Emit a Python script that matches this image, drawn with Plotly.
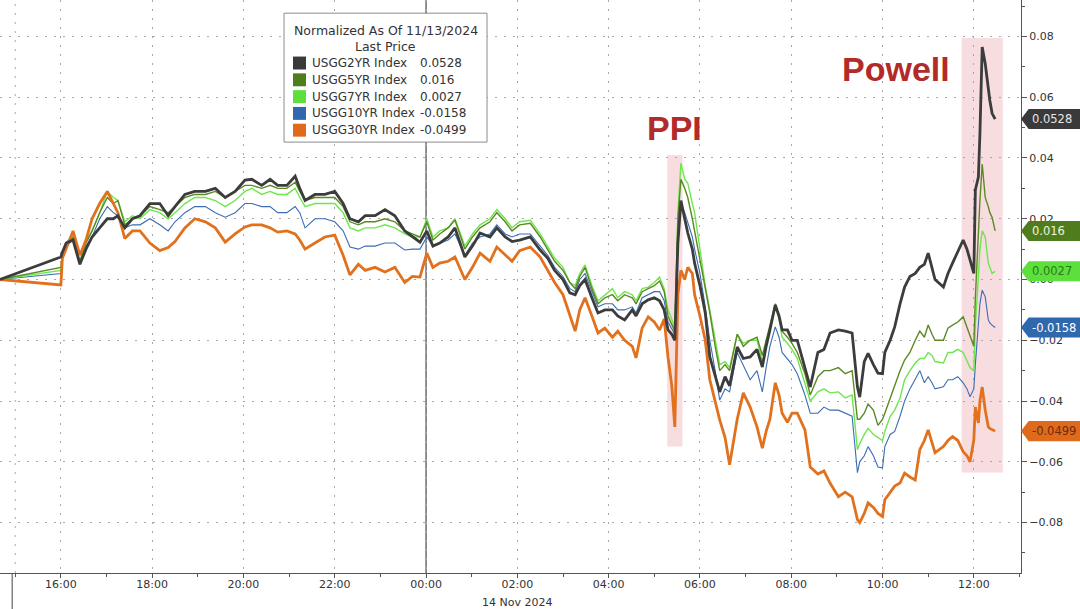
import pandas as pd
import plotly.graph_objects as go

# clock times (Nov 13 afternoon -> Nov 14), values normalized to 11/13/2024
times = [
    "14:40", "16:00", "16:02", "16:07", "16:16", "16:25", "16:33", "16:41", "16:51", "17:01",
    "17:09", "17:15", "17:24", "17:34", "17:44", "17:57", "18:10", "18:21", "18:30", "18:43",
    "18:56", "19:10", "19:23", "19:36", "19:49", "20:02", "20:11", "20:24", "20:35", "20:45",
    "20:57", "21:08", "21:14", "21:21", "21:34", "21:47", "22:00", "22:11", "22:20", "22:31",
    "22:40", "22:53", "23:06", "23:19", "23:32", "23:42", "23:52", "00:01", "00:09", "00:18",
    "00:29", "00:38", "00:51", "01:01", "01:11", "01:24", "01:33", "01:44", "01:53", "02:03",
    "02:17", "02:30", "02:40", "02:49", "03:00", "03:09", "03:16", "03:22", "03:29", "03:38",
    "03:46", "03:55", "04:05", "04:12", "04:21", "04:31", "04:36", "04:44", "04:52", "05:00",
    "05:07", "05:13", "05:18", "05:23", "05:27", "05:31", "05:35", "05:40", "05:44", "05:50",
    "05:53", "06:00", "06:07", "06:13", "06:20", "06:26", "06:33", "06:39", "06:49", "06:57",
    "07:06", "07:15", "07:22", "07:27", "07:32", "07:39", "07:44", "07:48", "07:55", "08:01",
    "08:08", "08:18", "08:25", "08:35", "08:43", "08:51", "09:02", "09:11", "09:20", "09:27",
    "09:30", "09:36", "09:41", "09:48", "09:54", "10:00", "10:03", "10:10", "10:16", "10:23",
    "10:29", "10:36", "10:43", "10:49", "10:55", "11:00", "11:05", "11:09", "11:20", "11:26",
    "11:32", "11:39", "11:46", "11:51", "11:55", "12:00", "12:02", "12:06", "12:08", "12:11",
    "12:15", "12:19", "12:21", "12:24", "12:28",
]

usgg2 = [
    0, 0.0074, 0.009, 0.012, 0.013, 0.005, 0.010, 0.014, 0.017, 0.020,
    0.020, 0.021, 0.017, 0.020, 0.021, 0.025, 0.025, 0.021, 0.024, 0.028,
    0.029, 0.029, 0.030, 0.027, 0.029, 0.0327, 0.033, 0.031, 0.033, 0.031,
    0.031, 0.034, 0.030, 0.026, 0.028, 0.028, 0.029, 0.025, 0.020, 0.019,
    0.021, 0.021, 0.023, 0.021, 0.016, 0.014, 0.0123, 0.016, 0.011, 0.012,
    0.014, 0.017, 0.0074, 0.011, 0.0153, 0.014, 0.017, 0.014, 0.0125, 0.013,
    0.014, 0.0097, 0.007, 0.003, 0.000, -0.0044, -0.005, -0.002, 0.0, -0.006,
    -0.011, -0.010, -0.010, -0.012, -0.0133, -0.010, -0.012, -0.008, -0.0067, -0.006,
    -0.007, -0.010, -0.0166, -0.018, -0.020, 0.012, 0.026, 0.020, 0.0153, 0.010,
    0.0054, -0.002, -0.011, -0.0255, -0.032, -0.037, -0.032, -0.035, -0.0222, -0.026,
    -0.0255, -0.023, -0.0288, -0.022, -0.0166, -0.0084, -0.012, -0.0166, -0.0166, -0.020,
    -0.020, -0.029, -0.0354, -0.024, -0.023, -0.0176, -0.0166, -0.017, -0.0176, -0.0354,
    -0.0387, -0.027, -0.0243, -0.028, -0.0308, -0.031, -0.024, -0.020, -0.0156, -0.008,
    -0.0025, 0.001, 0.002, 0.004, 0.005, 0.0087, 0.004, 0.0, -0.0025, 0.002,
    0.0054, 0.009, 0.013, 0.010, 0.0064, 0.002, 0.0295, 0.0337, 0.048, 0.0765,
    0.071, 0.0623, 0.059, 0.0547, 0.0528,
]

usgg5 = [
    0, 0.004, 0.008, 0.012, 0.014, 0.006, 0.012, 0.016, 0.022, 0.027,
    0.025, 0.026, 0.018, 0.020, 0.021, 0.024, 0.023, 0.022, 0.024, 0.027,
    0.028, 0.028, 0.029, 0.027, 0.029, 0.031, 0.031, 0.030, 0.031, 0.030,
    0.030, 0.032, 0.029, 0.026, 0.027, 0.027, 0.027, 0.024, 0.019, 0.018,
    0.019, 0.019, 0.020, 0.019, 0.016, 0.015, 0.014, 0.019, 0.013, 0.015,
    0.017, 0.0196, 0.010, 0.014, 0.017, 0.019, 0.022, 0.019, 0.016, 0.018,
    0.0185, 0.014, 0.010, 0.006, 0.003, -0.001, -0.003, 0.001, 0.004, -0.003,
    -0.008, -0.006, -0.005, -0.007, -0.005, -0.006, -0.008, -0.004, -0.003, -0.002,
    -0.0005, -0.004, -0.012, -0.015, -0.017, 0.020, 0.033, 0.030, 0.027, 0.020,
    0.016, 0.006, -0.004, -0.011, -0.022, -0.030, -0.028, -0.030, -0.018, -0.022,
    -0.020, -0.019, -0.025, -0.020, -0.015, -0.008, -0.012, -0.017, -0.019, -0.021,
    -0.024, -0.031, -0.038, -0.032, -0.030, -0.030, -0.029, -0.031, -0.030, -0.046,
    -0.046, -0.044, -0.041, -0.043, -0.048, -0.046, -0.044, -0.039, -0.035, -0.030,
    -0.0265, -0.024, -0.020, -0.017, -0.019, -0.015, -0.018, -0.020, -0.020, -0.016,
    -0.015, -0.014, -0.0123, -0.016, -0.019, -0.022, -0.006, 0.016, 0.026, 0.038,
    0.027, 0.024, 0.022, 0.0205, 0.016,
]

usgg7 = [
    0, 0.003, 0.008, 0.012, 0.015, 0.006, 0.012, 0.016, 0.022, 0.029,
    0.027, 0.026, 0.019, 0.021, 0.020, 0.023, 0.022, 0.020, 0.022, 0.025,
    0.027, 0.027, 0.026, 0.024, 0.026, 0.029, 0.030, 0.028, 0.029, 0.028,
    0.028, 0.030, 0.027, 0.024, 0.025, 0.025, 0.025, 0.022, 0.017, 0.016,
    0.017, 0.017, 0.018, 0.017, 0.015, 0.014, 0.014, 0.020, 0.014, 0.016,
    0.017, 0.020, 0.011, 0.015, 0.018, 0.020, 0.023, 0.020, 0.017, 0.019,
    0.0195, 0.015, 0.011, 0.007, 0.004, -0.001, -0.002, 0.002, 0.0048, -0.002,
    -0.007, -0.005, -0.003, -0.006, -0.004, -0.005, -0.007, -0.003, -0.0025, -0.001,
    0.0008, -0.003, -0.010, -0.013, -0.016, 0.022, 0.0383, 0.033, 0.0317, 0.025,
    0.022, 0.010, -0.002, -0.010, -0.020, -0.028, -0.027, -0.029, -0.018, -0.021,
    -0.020, -0.020, -0.027, -0.022, -0.016, -0.009, -0.013, -0.019, -0.021, -0.023,
    -0.026, -0.034, -0.040, -0.037, -0.036, -0.0373, -0.037, -0.039, -0.038, -0.056,
    -0.054, -0.051, -0.049, -0.051, -0.052, -0.053, -0.050, -0.045, -0.043, -0.039,
    -0.033, -0.030, -0.0275, -0.026, -0.026, -0.024, -0.025, -0.027, -0.0275, -0.024,
    -0.024, -0.023, -0.024, -0.027, -0.029, -0.030, -0.015, 0.0008, 0.010, 0.016,
    0.014, 0.0054, 0.004, 0.002, 0.0027,
]

usgg10 = [
    0, 0.002, 0.008, 0.011, 0.013, 0.005, 0.011, 0.014, 0.020, 0.024,
    0.022, 0.021, 0.017, 0.018, 0.018, 0.020, 0.018, 0.016, 0.019, 0.022,
    0.024, 0.024, 0.022, 0.0205, 0.022, 0.025, 0.025, 0.024, 0.024, 0.022,
    0.022, 0.024, 0.022, 0.017, 0.020, 0.020, 0.019, 0.016, 0.0107, 0.010,
    0.011, 0.011, 0.012, 0.012, 0.0097, 0.010, 0.010, 0.014, 0.011, 0.012,
    0.013, 0.015, 0.008, 0.012, 0.014, 0.015, 0.018, 0.015, 0.014, 0.015,
    0.015, 0.011, 0.008, 0.004, 0.001, -0.003, -0.004, 0.0, 0.002, -0.004,
    -0.009, -0.008, -0.008, -0.010, -0.010, -0.009, -0.011, -0.006, -0.005, -0.004,
    -0.004, -0.007, -0.014, -0.016, -0.018, 0.012, 0.025, 0.022, 0.019, 0.014,
    0.010, 0.002, -0.009, -0.020, -0.030, -0.0397, -0.036, -0.037, -0.024, -0.028,
    -0.033, -0.030, -0.037, -0.029, -0.022, -0.0156, -0.019, -0.024, -0.026, -0.028,
    -0.031, -0.038, -0.044, -0.044, -0.042, -0.043, -0.043, -0.044, -0.045, -0.0636,
    -0.060, -0.058, -0.055, -0.058, -0.0617, -0.062, -0.055, -0.051, -0.050, -0.045,
    -0.040, -0.036, -0.033, -0.030, -0.034, -0.032, -0.034, -0.036, -0.0353, -0.033,
    -0.033, -0.032, -0.034, -0.036, -0.0386, -0.036, -0.028, -0.0143, -0.008, -0.0035,
    -0.0057, -0.0133, -0.0143, -0.015, -0.0158,
]

usgg30 = [
    0, -0.0018, 0.007, 0.010, 0.016, 0.008, 0.013, 0.020, 0.025, 0.029,
    0.025, 0.022, 0.0135, 0.016, 0.016, 0.012, 0.0095, 0.0105, 0.0125, 0.017,
    0.020, 0.019, 0.017, 0.0123, 0.015, 0.0173, 0.018, 0.018, 0.017, 0.0156,
    0.016, 0.015, 0.013, 0.010, 0.012, 0.014, 0.0146, 0.008, 0.0015, 0.005,
    0.003, 0.004, 0.0025, 0.004, -0.001, 0.001, 0.0008, 0.0087, 0.004, 0.0054,
    0.006, 0.0074, 0.0, 0.004, 0.0087, 0.006, 0.0107, 0.008, 0.006, 0.0095,
    0.0107, 0.0074, 0.003, -0.001, -0.005, -0.012, -0.017, -0.010, -0.006, -0.012,
    -0.0176, -0.016, -0.019, -0.017, -0.020, -0.022, -0.0258, -0.016, -0.0123, -0.014,
    -0.0166, -0.013, -0.0255, -0.035, -0.0485, -0.005, 0.003, 0.0, 0.004, 0.002,
    -0.005, -0.012, -0.020, -0.033, -0.040, -0.0462, -0.052, -0.061, -0.046, -0.0373,
    -0.042, -0.0485, -0.0555, -0.050, -0.046, -0.034, -0.038, -0.044, -0.047, -0.044,
    -0.044, -0.0495, -0.0617, -0.064, -0.063, -0.067, -0.0715, -0.070, -0.0715, -0.079,
    -0.080, -0.077, -0.0735, -0.075, -0.077, -0.078, -0.0725, -0.070, -0.068, -0.067,
    -0.0637, -0.065, -0.066, -0.056, -0.053, -0.0495, -0.054, -0.057, -0.055, -0.053,
    -0.0517, -0.053, -0.0567, -0.058, -0.060, -0.0528, -0.042, -0.0472, -0.040, -0.0354,
    -0.043, -0.0485, -0.049, -0.0495, -0.0499,
]

names = ["USGG2YR Index", "USGG5YR Index", "USGG7YR Index", "USGG10YR Index", "USGG30YR Index"]
values = [usgg2, usgg5, usgg7, usgg10, usgg30]
line_colors = ["#3c3c3c", "#5b8a23", "#6ee64d", "#3a6db3", "#e2711d"]
line_widths = [2.8, 1.4, 1.4, 1.1, 2.8]
key_colors = ["#3a3a3a", "#4f7d1e", "#5de03c", "#2f68ad", "#e06a1c"]
tag_text_colors = ["#e6e6e6", "#eef5d8", "#2b7a1c", "#ffffff", "#6e2a0c"]

events = [("PPI", "2024-11-14 05:17", "2024-11-14 05:37", -0.055, 0.041, "2024-11-14 05:26", 0.0498),
          ("Powell", "2024-11-14 11:44", "2024-11-14 12:38", -0.0635, 0.0795, "2024-11-14 10:18", 0.0693)]


def to_ts(t):
    day = "2024-11-13" if int(t[:2]) >= 14 else "2024-11-14"
    return pd.Timestamp(f"{day} {t}")


x = [to_ts(t) for t in times]

fig = go.Figure()

# draw order: thin lines first, 2Y on top
for i in [3, 2, 1, 4, 0]:
    fig.add_trace(go.Scatter(
        x=x, y=values[i], mode="lines", name=names[i],
        line=dict(color=line_colors[i], width=line_widths[i]),
        showlegend=False, hoverinfo="skip",
    ))

shapes = []
annotations = []
font = "DejaVu Sans"
grid_dash = "2px,7px"

# event shading + labels
for label, x0, x1, y0, y1, lx, ly in events:
    shapes.append(dict(type="rect", xref="x", yref="y", x0=x0, x1=x1, y0=y0, y1=y1,
                       fillcolor="rgba(230,150,160,0.33)", line=dict(width=0), layer="below"))
    annotations.append(dict(x=lx, y=ly, xref="x", yref="y", text=f"<b>{label}</b>",
                            showarrow=False, font=dict(family="Liberation Sans", size=34, color="#b22a2a")))

# day separator and extra session line
shapes.append(dict(type="line", xref="x", yref="paper", x0="2024-11-14 00:00", x1="2024-11-14 00:00",
                   y0=0, y1=1, line=dict(color="#222", width=1), layer="below"))
shapes.append(dict(type="line", xref="x", yref="paper", x0="2024-11-13 15:00", x1="2024-11-13 15:00",
                   y0=0, y1=1, line=dict(color="#a8a8a8", width=1, dash=grid_dash), layer="below"))
shapes.append(dict(type="line", xref="x", yref="paper", x0="2024-11-13 14:56", x1="2024-11-13 14:56",
                   y0=-0.07, y1=0, line=dict(color="#444", width=1)))

# legend box
shapes.append(dict(type="rect", xref="paper", yref="paper", x0=0.2782, x1=0.477, y0=0.752, y1=0.977,
                   fillcolor="white", line=dict(color="#8c8c8c", width=1), layer="above"))
annotations.append(dict(x=0.3776, y=0.946, xref="paper", yref="paper", text="Normalized As Of 11/13/2024",
                        xanchor="center", yanchor="middle", showarrow=False,
                        font=dict(family=font, size=12.5, color="#333")))
annotations.append(dict(x=0.3776, y=0.918, xref="paper", yref="paper", text="Last Price",
                        xanchor="center", yanchor="middle", showarrow=False,
                        font=dict(family=font, size=12.5, color="#333")))
for i, name in enumerate(names):
    ry = 0.890 - i * 0.0293
    shapes.append(dict(type="rect", xref="paper", yref="paper", x0=0.287, x1=0.2997,
                       y0=ry - 0.0113, y1=ry + 0.0113, fillcolor=key_colors[i],
                       line=dict(width=0), layer="above"))
    annotations.append(dict(x=0.3036, y=ry, xref="paper", yref="paper", text=name, xanchor="left",
                            yanchor="middle", showarrow=False, font=dict(family=font, size=12, color="#333")))
    annotations.append(dict(x=0.4094, y=ry, xref="paper", yref="paper", text=f"{values[i][-1]:g}",
                            xanchor="left", yanchor="middle", showarrow=False,
                            font=dict(family=font, size=12, color="#333")))

# last value tags on the right axis
h = 0.0033
for i in range(5):
    v = values[i][-1]
    shapes.append(dict(type="path", xref="paper", yref="y",
                       path=f"M 1.0,{v} L 1.0075,{v + h} L 1.07,{v + h} L 1.07,{v - h} L 1.0075,{v - h} Z",
                       fillcolor=key_colors[i], line=dict(width=0), layer="above"))
    annotations.append(dict(x=1.0085, y=v, xref="paper", yref="y", text=f"{v:g}", xanchor="left",
                            yanchor="middle", showarrow=False,
                            font=dict(family=font, size=11.5, color=tag_text_colors[i])))

annotations.append(dict(x="2024-11-14 02:00", y=-0.052, xref="x", yref="paper", text="14 Nov 2024",
                        xanchor="center", yanchor="middle", showarrow=False,
                        font=dict(family=font, size=11, color="#333")))

fig.update_layout(
    width=1080, height=609,
    margin=dict(l=0, r=59, t=0, b=36),
    paper_bgcolor="white", plot_bgcolor="white",
    showlegend=False, hovermode=False,
    shapes=shapes, annotations=annotations,
    xaxis=dict(
        type="date", range=["2024-11-13 14:40", "2024-11-14 13:02"],
        tick0="2024-11-13 16:00", dtick=7200000, tickformat="%H:%M",
        showgrid=True, gridcolor="#a8a8a8", griddash=grid_dash, gridwidth=1,
        ticks="outside", ticklen=4, tickcolor="#555", ticklabelstandoff=-3,
        showline=True, linecolor="#555", linewidth=1, zeroline=False,
        minor=dict(dtick=3600000, ticks="outside", ticklen=3, tickcolor="#555", showgrid=False),
        tickfont=dict(family=font, size=11, color="#333"),
    ),
    yaxis=dict(
        side="right", range=[-0.0966, 0.092], tick0=0, dtick=0.02, tickformat=".2f",
        showgrid=True, gridcolor="#a8a8a8", griddash=grid_dash, gridwidth=1,
        ticks="outside", ticklen=5, tickcolor="#555",
        showline=True, linecolor="#555", linewidth=1, zeroline=False,
        minor=dict(dtick=0.01, ticks="outside", ticklen=3, tickcolor="#555", showgrid=False),
        tickfont=dict(family=font, size=11, color="#333"),
    ),
)

# page body has a default 8px margin; drop it so the figure sits at the window corner
fig.write_html("out.html", config={"displayModeBar": False},
               post_script="document.body.style.margin='0';")
